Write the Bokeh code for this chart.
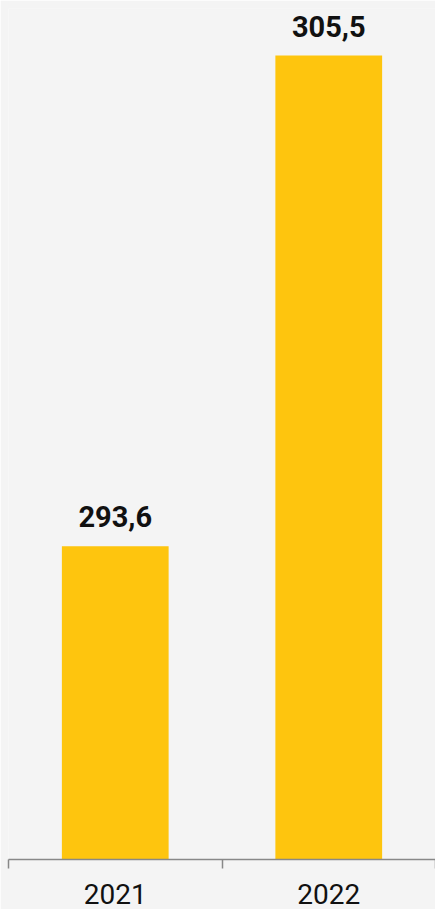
from bokeh.plotting import figure
from bokeh.models import ColumnDataSource, FixedTicker, Range1d, LabelSet
from bokeh.core.properties import value
from bokeh.embed import file_html
from bokeh.resources import INLINE

years = ["2021", "2022"]
values = [293.6, 305.5]
value_labels = ["293,6", "305,5"]

pos = [i + 0.5 for i in range(len(years))]
src = ColumnDataSource(dict(x=pos, top=values, lbl=value_labels))

p = figure(width=435, height=909, output_backend="svg", toolbar_location=None,
           x_range=Range1d(0, len(years)), y_range=Range1d(286.0, 306.64),
           min_border_top=8, min_border_left=8, min_border_right=0, min_border_bottom=50)
p.background_fill_color = "#f4f4f4"
p.border_fill_color = "#f4f4f4"
p.outline_line_color = None
p.grid.visible = False
p.yaxis.visible = False

p.vbar(x="x", top="top", bottom=286.0, width=0.5, source=src,
       fill_color="#FEC50E", line_color=None)

labels = LabelSet(x="x", y="top", text="lbl", source=src, y_offset=19,
                  text_align="center", text_baseline="bottom",
                  text_font=value("Roboto"), text_font_style="bold",
                  text_font_size="29px", text_color="#111111")
p.add_layout(labels)

xa = p.xaxis[0]
xa.ticker = FixedTicker(ticks=pos, minor_ticks=list(range(len(years) + 1)))
xa.major_label_overrides = {pos[i]: years[i] for i in range(len(years))}
xa.major_tick_line_color = None
xa.major_tick_out = 0
xa.major_tick_in = 0
xa.minor_tick_line_color = "#888888"
xa.minor_tick_line_width = 1.5
xa.minor_tick_out = 9
xa.minor_tick_in = 0
xa.axis_line_color = "#888888"
xa.axis_line_width = 1.5
xa.major_label_text_font = "Roboto"
xa.major_label_text_font_size = "28px"
xa.major_label_text_color = "#111111"
xa.major_label_standoff = 15

open("out.html", "w").write(file_html(p, INLINE))
